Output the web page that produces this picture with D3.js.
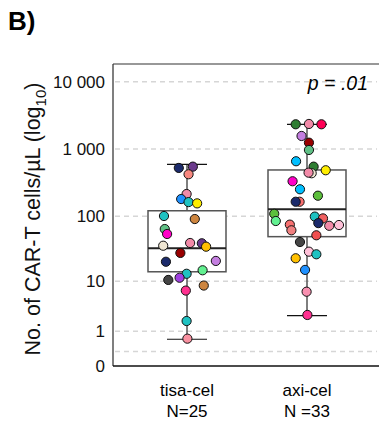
<!DOCTYPE html>
<html>
<head>
<meta charset="utf-8">
<script src="https://cdn.jsdelivr.net/npm/d3@7"></script>
<style>
  body { margin: 0; background: #fff; }
  svg { font-family: "Liberation Sans", Arial, sans-serif; }
</style>
</head>
<body>
<div id="chart"></div>
<script>
// groups
const groups = ["tisa-cel", "axi-cel"];
const groupN = ["N=25", "N =33"];

// box stats per group (cells/uL)
const boxLo  = [0.52, 2.4];
const boxQ1  = [14.2, 49.4];
const boxMed = [32.9, 127];
const boxQ3  = [121, 490];
const boxHi  = [595, 2334];

// individual patients: value, horizontal jitter (-1..1 of half box), colour
const tisaVals = [525, 549, 423, 215, 181, 163, 156, 101, 91, 64.4, 54.2, 36.0, 39.6, 39.2, 34.8, 27.9, 20.4, 21.0, 15.0, 13.2, 10.5, 11.4, 8.5, 7.0, 1.83, 0.55];
const tisaJit  = [-0.21, 0.15, 0.04, -0.01, -0.15, 0.04, 0.26, -0.59, 0.20, -0.57, -0.51, -0.61, 0.08, 0.38, 0.49, -0.17, -0.54, 0.74, 0.40, -0.01, -0.48, -0.19, 0.43, -0.03, -0.01, 0.01];
const tisaCol  = ["#1b2a6b", "#6b3a8c", "#f7877f", "#f28aa8", "#1e90ff", "#1fc2c2", "#ffee00", "#1fc2c2", "#cd853f", "#5fbf85",
                  "#ff00c8", "#efe6d2", "#f28aa8", "#6b3a8c", "#ffc000", "#990000", "#1b2a6b", "#c47ee0", "#62f090", "#1fc2c2",
                  "#444444", "#a040e0", "#cd853f", "#ff3090", "#1fc2c2", "#f890a0"];

const axiVals = [2334, 2360, 2334, 1566, 1246, 970, 660, 549, 485, 438, 447, 333, 253, 203, 165, 165, 109, 85, 99, 93, 79, 72, 74, 75, 61.6, 51.8, 41.0, 29.2, 26.6, 23.1, 15.2, 6.7, 2.48];
const axiJit  = [-0.29, 0.05, 0.37, -0.14, 0.05, 0.05, -0.28, 0.17, 0.48, 0.12, 0.04, -0.37, -0.18, 0.28, -0.19, -0.29, -0.84, -0.80, 0.20, 0.41, 0.29, 0.57, 0.82, -0.44, -0.40, 0.24, -0.18, 0.05, 0.24, -0.29, -0.05, -0.01, 0.01];
const axiCol  = ["#2e7d32", "#f28aa8", "#ff0055", "#c47ee0", "#990000", "#5fbf85", "#00bfff", "#2e7d32", "#ffee00", "#efe6d2",
                 "#f28aa8", "#ff00c8", "#00bfff", "#5cbf3c", "#f87070", "#1b2a6b", "#5cbf3c", "#62f090", "#1fc2c2", "#f06060",
                 "#1b2a6b", "#f28aa8", "#ffc0d8", "#f87070", "#f08080", "#f05050", "#444444", "#ffc0d8", "#1fc2c2", "#ffc000",
                 "#1e90ff", "#f890b0", "#ff3090"];

// y ticks
const gridVals = [0, 1, 10, 100, 1000, 10000];
const tickVals = [0, 1, 10, 100, 1000, 10000];
const tickLabels = ["0", "1", "10", "100", "1 000", "10 000"];

const W = 379, H = 423;
const mLeft = 113, mRight = 379, mTop = 64, mBottom = 366;

const svg = d3.select("#chart").append("svg")
    .attr("width", W)
    .attr("height", H);

const lg = v => Math.log10(v + 1);
const yMin = -0.215, yMax = 4.262;

const y = d3.scaleLinear().domain([yMin, yMax]).range([mBottom, mTop]);
const x = d3.scalePoint().domain(groups).range([187, 307]);
const halfBox = 39;
const jit = d3.scaleLinear().domain([-1, 1]).range([-halfBox, halfBox]);

// gridlines
svg.append("g").selectAll("line")
    .data(gridVals)
    .join("line")
    .attr("x1", mLeft + 2).attr("x2", 377)
    .attr("y1", d => y(lg(d))).attr("y2", d => y(lg(d)))
    .attr("stroke", "#d6d6d6")
    .attr("stroke-width", 1.5)
    .attr("stroke-dasharray", "5,4");

// frame: left, top, bottom
svg.append("line").attr("x1", mLeft).attr("x2", mLeft).attr("y1", mTop).attr("y2", mBottom)
    .attr("stroke", "#555").attr("stroke-width", 1.5);
svg.append("line").attr("x1", mLeft).attr("x2", mRight).attr("y1", mTop).attr("y2", mTop)
    .attr("stroke", "#333").attr("stroke-width", 1.2);
svg.append("line").attr("x1", mLeft).attr("x2", mRight).attr("y1", mBottom).attr("y2", mBottom)
    .attr("stroke", "#111").attr("stroke-width", 1.5);

// y tick labels
svg.append("g").selectAll("text")
    .data(tickVals)
    .join("text")
    .attr("x", mLeft - 8)
    .attr("y", d => (d === 0 ? y(yMin) : y(lg(d))))
    .attr("dy", "0.36em")
    .attr("text-anchor", "end")
    .attr("font-size", 17)
    .attr("fill", "#111")
    .text((d, i) => tickLabels[i]);

// boxes
const boxes = groups.map((g, i) => ({ g, lo: boxLo[i], q1: boxQ1[i], med: boxMed[i], q3: boxQ3[i], hi: boxHi[i] }));
const bx = svg.append("g");
boxes.forEach(b => {
    const cx = x(b.g);
    bx.append("line").attr("x1", cx).attr("x2", cx)
        .attr("y1", y(lg(b.lo))).attr("y2", y(lg(b.hi)))
        .attr("stroke", "#555").attr("stroke-width", 1.5);
    [b.lo, b.hi].forEach(v => {
        bx.append("line").attr("x1", cx - 20).attr("x2", cx + 20)
            .attr("y1", y(lg(v))).attr("y2", y(lg(v)))
            .attr("stroke", "#111").attr("stroke-width", 1.2);
    });
    bx.append("rect")
        .attr("x", cx - halfBox).attr("width", halfBox * 2)
        .attr("y", y(lg(b.q3))).attr("height", y(lg(b.q1)) - y(lg(b.q3)))
        .attr("fill", "#fff").attr("stroke", "#555").attr("stroke-width", 1.5);
    bx.append("line").attr("x1", cx - halfBox).attr("x2", cx + halfBox)
        .attr("y1", y(lg(b.med))).attr("y2", y(lg(b.med)))
        .attr("stroke", "#222").attr("stroke-width", 2);
});

// points
const pts = [];
tisaVals.forEach((v, i) => pts.push({ g: "tisa-cel", v, j: tisaJit[i], c: tisaCol[i] }));
axiVals.forEach((v, i) => pts.push({ g: "axi-cel", v, j: axiJit[i], c: axiCol[i] }));

svg.append("g").selectAll("circle")
    .data(pts)
    .join("circle")
    .attr("cx", d => x(d.g) + jit(d.j))
    .attr("cy", d => y(lg(d.v)))
    .attr("r", 4.6)
    .attr("fill", d => d.c)
    .attr("stroke", "#111")
    .attr("stroke-width", 1);

// x labels
svg.append("g").selectAll("text")
    .data(groups)
    .join("text")
    .attr("x", d => x(d))
    .attr("y", 396)
    .attr("text-anchor", "middle")
    .attr("font-size", 17)
    .text(d => d);
svg.append("g").selectAll("text")
    .data(groupN)
    .join("text")
    .attr("x", (d, i) => x(groups[i]))
    .attr("y", 417)
    .attr("text-anchor", "middle")
    .attr("font-size", 17)
    .text(d => d);

// y title
const yt = svg.append("text")
    .attr("transform", "translate(40,219) rotate(-90)")
    .attr("text-anchor", "middle")
    .attr("font-size", 21.5)
    .attr("fill", "#111");
yt.append("tspan").text("No. of CAR-T cells/\u00b5L (log");
yt.append("tspan").attr("font-size", 15).attr("dy", 6).text("10");
yt.append("tspan").attr("dy", -6).text(")");

// p value
svg.append("text")
    .attr("x", 368).attr("y", 90)
    .attr("text-anchor", "end")
    .attr("font-size", 19.5)
    .attr("font-style", "italic")
    .text("p = .01");

// panel label
svg.append("text")
    .attr("x", 8).attr("y", 30)
    .attr("font-size", 26)
    .attr("font-weight", "bold")
    .text("B)");
</script>
</body>
</html>
